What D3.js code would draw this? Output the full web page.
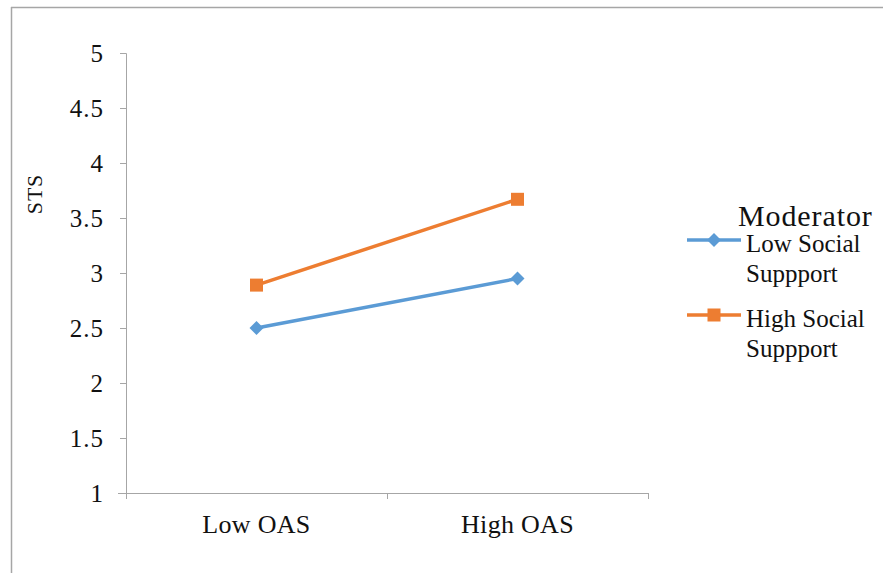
<!DOCTYPE html>
<html><head><meta charset="utf-8">
<script src="https://cdn.jsdelivr.net/npm/d3@7"></script>
<style>body{margin:0;background:#fff}svg{display:block}text{font-family:"Liberation Serif","DejaVu Serif",serif;fill:#111}</style>
</head><body><svg id="c" width="883" height="573"></svg>
<script>
const categories = ["Low OAS", "High OAS"];
const lowSupport = [2.5, 2.95];
const highSupport = [2.89, 3.67];
const seriesNames = ["Low Social Suppport", "High Social Suppport"];
const yTicks = [1, 1.5, 2, 2.5, 3, 3.5, 4, 4.5, 5];
const colors = ["#5b9bd5", "#ed7d31"];

const svg = d3.select("#c");
// outer frame
svg.append("line").attr("x1",11.5).attr("x2",11.5).attr("y1",7).attr("y2",573).attr("stroke","#a6a6a6").attr("stroke-width",1.5);
svg.append("line").attr("x1",11).attr("x2",883).attr("y1",7.5).attr("y2",7.5).attr("stroke","#a6a6a6").attr("stroke-width",1.5);

const L=126, R=648, T=53, B=493;
const x = d3.scaleBand().domain(categories).range([L,R]);
const y = d3.scaleLinear().domain([1,5]).range([B,T]);

// y axis
const ya = svg.append("g").attr("transform",`translate(${L},0)`)
  .call(d3.axisLeft(y).tickValues(yTicks).tickSize(6).tickPadding(16).tickFormat(d3.format("")));
ya.attr("font-family",null).attr("font-size",null);
ya.select(".domain").attr("stroke","#a6a6a6").attr("d",`M-6,${T}.5H0.5V${B}`);
ya.selectAll(".tick line").attr("stroke","#a6a6a6");
ya.selectAll(".tick text").attr("font-size",25).attr("letter-spacing",1).attr("fill","#111");

// x axis
const xa = svg.append("g").attr("transform",`translate(0,${B})`)
  .call(d3.axisBottom(x).tickSize(0).tickPadding(22));
xa.attr("font-family",null).attr("font-size",null);
xa.select(".domain").attr("stroke","#a6a6a6").attr("d",`M${L-8},0.5H${R}`);
xa.selectAll(".tick text").attr("font-size",26).attr("letter-spacing",0.3).attr("fill","#111");
const bounds = [L, L+x.bandwidth(), R];
xa.selectAll(".bt").data(bounds).enter().append("line")
  .attr("x1",d=>d+0.5).attr("x2",d=>d+0.5).attr("y1",0).attr("y2",6).attr("stroke","#a6a6a6");

// y label
svg.append("text").attr("transform","translate(42,194) rotate(-90)").attr("text-anchor","middle")
  .attr("font-size",22).attr("letter-spacing",0.8).text("STS");

const cx = d => x(d)+x.bandwidth()/2;
const line = d3.line().x((d,i)=>cx(categories[i])).y(d=>y(d));
const data = [lowSupport, highSupport];
data.forEach((s,k)=>{
  svg.append("path").attr("d",line(s)).attr("fill","none").attr("stroke",colors[k]).attr("stroke-width",3.5);
});
function marker(g,k,px,py){
  if(k===0){
    g.append("path").attr("d",`M${px},${py-7}L${px+7},${py}L${px},${py+7}L${px-7},${py}Z`).attr("fill",colors[0]);
  } else {
    g.append("rect").attr("x",px-6.5).attr("y",py-6.5).attr("width",13).attr("height",13).attr("fill",colors[1]);
  }
}
data.forEach((s,k)=>{
  s.forEach((v,i)=>marker(svg,k,cx(categories[i]),y(v)));
});

// legend
svg.append("text").attr("x",738).attr("y",226).attr("font-size",30).attr("letter-spacing",0.9).text("Moderator");
const legY = [240, 315];
seriesNames.forEach((n,k)=>{
  svg.append("line").attr("x1",687).attr("x2",741).attr("y1",legY[k]).attr("y2",legY[k]).attr("stroke",colors[k]).attr("stroke-width",3.5);
  marker(svg,k,714,legY[k]);
  const parts = n.split(" ");
  const t = svg.append("text").attr("x",746).attr("y",legY[k]+12).attr("font-size",25);
  t.append("tspan").attr("x",746).text(parts[0]+" "+parts[1]);
  t.append("tspan").attr("x",746).attr("dy",30).text(parts[2]);
});
</script></body></html>
